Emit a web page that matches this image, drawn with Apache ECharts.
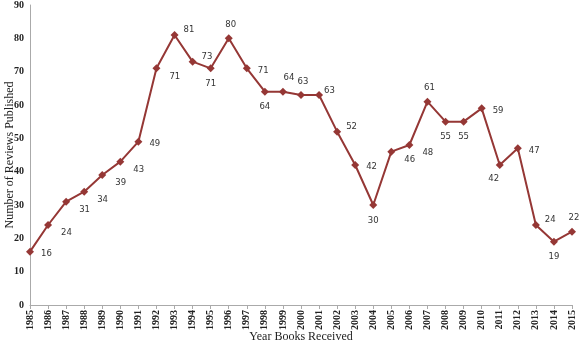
<!DOCTYPE html>
<html><head><meta charset="utf-8">
<script src="https://cdn.jsdelivr.net/npm/echarts@6/dist/echarts.min.js"></script>
<style>html,body{margin:0;padding:0;background:#fff}#c{width:581px;height:345px}</style>
</head><body><div id="c"></div>
<script>
const years = ['1985','1986','1987','1988','1989','1990','1991','1992','1993','1994','1995','1996','1997','1998','1999','2000','2001','2002','2003','2004','2005','2006','2007','2008','2009','2010','2011','2012','2013','2014','2015'];
const reviews = [16,24,31,34,39,43,49,71,81,73,71,80,71,64,64,63,63,52,42,30,46,48,61,55,55,59,42,47,24,19,22];
const labelPos = ['right','rb','rb','rb','rb','rb','right','rb','rt','rt','bottom','top','right','bottom','tr','top','rt2','rt','right','bottom','rb','rb','top','bottom','bottom','right','lb','right','rt','bottom','top'];
const yTicks = [0,10,20,30,40,50,60,70,80,90];

const posMap = {
  right: {position:'right', offset:[2,2]},
  rb: {position:'right', offset:[4,8]},
  rt: {position:'right', offset:[0,-5]},
  rt2: {position:'right', offset:[-4,-4]},
  tr: {position:'top', offset:[6,0]},
  top: {position:'top', offset:[2,0]},
  bottom: {position:'bottom', offset:[0,2]},
  lb: {position:'bottom', offset:[-6,0]}
};
const data = reviews.map((v,i)=>({value:v, label: posMap[labelPos[i]]}));
const chart = echarts.init(document.getElementById('c'));
chart.setOption({
  animation:false,
  grid:{left:30,right:9,top:5,bottom:40, outerBoundsMode:'none', containLabel:false},
  xAxis:{
    type:'category', data:years, boundaryGap:false,
    name:'Year Books Received', nameLocation:'middle', nameGap:26, nameMoveOverlap:false,
    nameTextStyle:{fontFamily:'Liberation Serif', fontSize:12, color:'#222'},
    axisLine:{lineStyle:{color:'#aaa'}},
    axisTick:{show:true, alignWithLabel:true, length:4, lineStyle:{color:'#aaa'}},
    axisLabel:{rotate:90, interval:0, fontFamily:'Liberation Serif', fontWeight:'bold', fontSize:10, color:'#222', margin:5}
  },
  yAxis:{
    type:'value', min:yTicks[0], max:yTicks[yTicks.length-1], interval:10,
    name:'Number of Reviews Published', nameLocation:'middle', nameGap:14, nameMoveOverlap:false,
    nameTextStyle:{fontFamily:'Liberation Serif', fontSize:12, color:'#222'},
    axisLine:{show:true, lineStyle:{color:'#aaa'}},
    axisTick:{show:false},
    splitLine:{show:false},
    axisLabel:{fontFamily:'Liberation Serif', fontWeight:'bold', fontSize:10, color:'#222', margin:6}
  },
  series:[{
    type:'line', data:data,
    symbol:'diamond', symbolSize:8,
    lineStyle:{color:'#953735', width:2},
    itemStyle:{color:'#953735'},
    label:{show:true, fontFamily:'DejaVu Sans', fontSize:8.5, color:'#333'}
  }]
});
</script></body></html>
